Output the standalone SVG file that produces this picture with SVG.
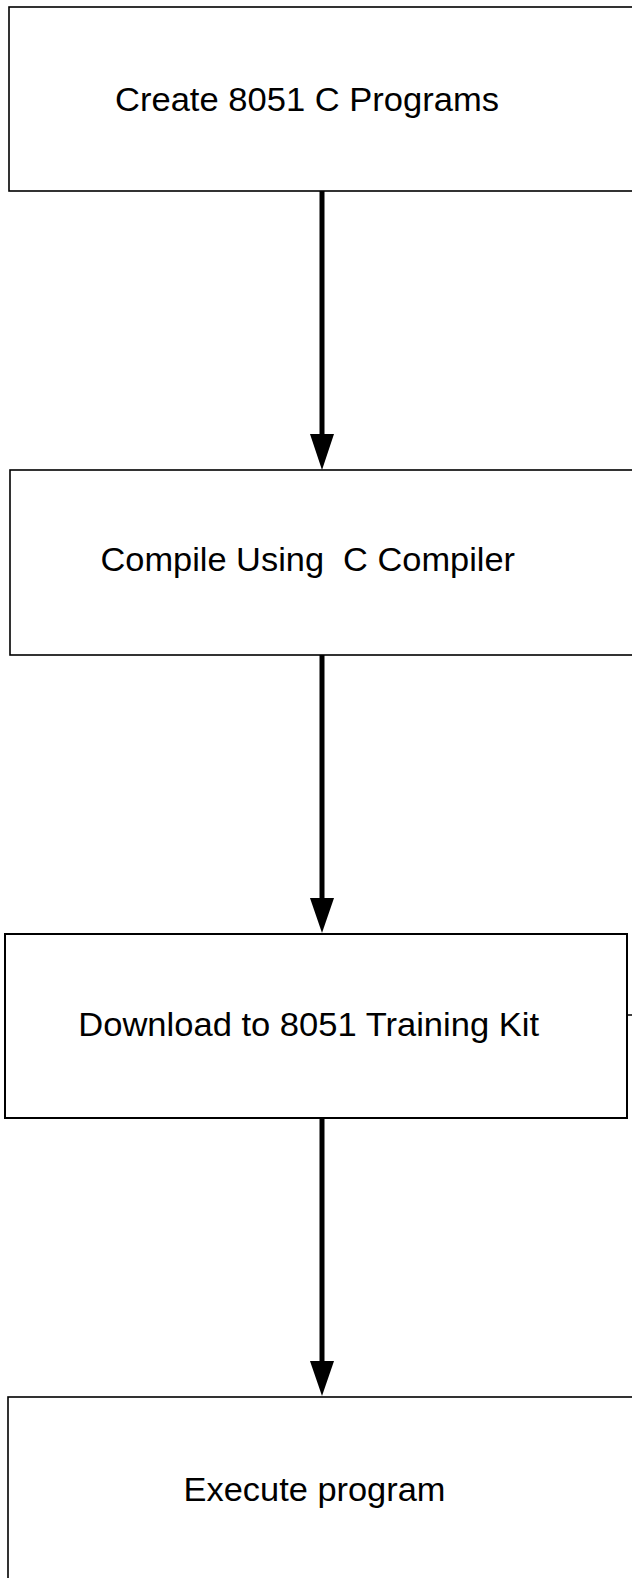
<svg xmlns="http://www.w3.org/2000/svg" width="632" height="1578" viewBox="0 0 632 1578">
<style>
.box{fill:#fff;stroke:#000;stroke-width:1.6}
.lbl{font-family:"Liberation Sans",Arial,sans-serif;font-size:34px;fill:#000}
.conn{stroke:#000;stroke-width:5;fill:none}
.head{fill:#000}
</style>
<rect width="632" height="1578" fill="#fff"/>
<g id="node1">
<rect class="box" x="9" y="7" width="640" height="184"/>
<text class="lbl" x="115" y="110.5" textLength="384" lengthAdjust="spacingAndGlyphs">Create 8051 C Programs</text>
</g>
<g id="node2">
<rect class="box" x="10" y="470" width="640" height="185"/>
<text class="lbl" x="100.5" y="570.5" textLength="414.5" lengthAdjust="spacingAndGlyphs" xml:space="preserve">Compile Using  C Compiler</text>
</g>
<g id="node3">
<rect class="box" x="5" y="934" width="622" height="184" style="stroke-width:2"/>
<line x1="627" y1="1015" x2="632" y2="1015" stroke="#000" stroke-width="1.5"/>
<text class="lbl" x="78.3" y="1035.7" textLength="460.7" lengthAdjust="spacingAndGlyphs">Download to 8051 Training Kit</text>
</g>
<g id="node4">
<rect class="box" x="8" y="1397" width="640" height="200"/>
<text class="lbl" x="183.5" y="1500.7" textLength="262" lengthAdjust="spacingAndGlyphs">Execute program</text>
</g>
<g id="connectors">
<line class="conn" x1="322" y1="191" x2="322" y2="436"/>
<polygon class="head" points="310,434 334,434 322,470"/>
<line class="conn" x1="322" y1="655" x2="322" y2="900"/>
<polygon class="head" points="310,898 334,898 322,933"/>
<line class="conn" x1="322" y1="1118" x2="322" y2="1363"/>
<polygon class="head" points="310,1361 334,1361 322,1396"/>
</g>
</svg>
